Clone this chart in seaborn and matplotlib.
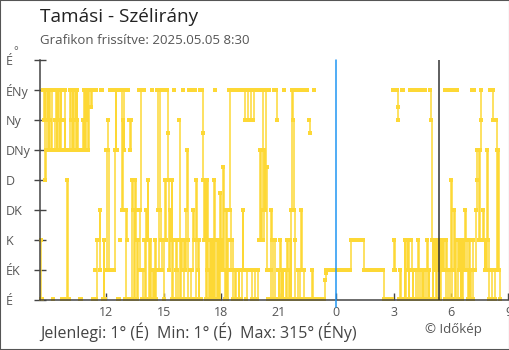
import numpy as np
import pandas as pd
import matplotlib
matplotlib.use("Agg")
import matplotlib.pyplot as plt
import seaborn as sns
from matplotlib.patches import Rectangle

# ---- data (2.5-minute readings from 08:35; one row per hour; hours continue past 24) ----
start_hour = 8 + 35 / 60
step_hours = 2.5 / 60
wind_dir = [
    90, 1, 1, 315, 270, 315, 180, 225, 315, 270, 225, 315, 270, 225, 315, 1, 1, 225, 270, 315, 225, 270, 315, 225,
    270, 315, 225, 1, 1, 270, 225, 315, 1, 180, 1, 1, 225, 315, 270, 225, 315, 225, 270, 315, 225, 315, 270, 225,
    225, 1, 1, 1, 225, 270, 225, 315, 225, 315, 270, 315, 225, 315, 315, 290, 315, 315, 1, 315, 45, 315, 1, 90,
    90, 90, 135, 45, 315, 315, 1, 90, 1, 1, 225, 45, 270, 225, 45, 315, 45, 315, 45, 315, 45, 225, 315, 225,
    225, 1, 1, 315, 90, 315, 135, 270, 225, 315, 1, 135, 90, 315, 1, 270, 225, 270, 1, 180, 135, 1, 180, 135,
    90, 1, 90, 315, 45, 135, 315, 1, 45, 315, 90, 1, 135, 90, 180, 90, 1, 90, 1, 315, 1, 45, 1, 90,
    45, 1, 315, 135, 45, 315, 135, 90, 45, 315, 1, 90, 180, 90, 315, 250, 180, 45, 135, 90, 180, 1, 90, 315,
    1, 45, 90, 45, 1, 270, 90, 1, 90, 45, 315, 1, 90, 45, 135, 225, 90, 1, 315, 45, 1, 315, 45, 135,
    90, 315, 1, 180, 90, 45, 1, 90, 315, 1, 315, 250, 180, 90, 180, 1, 45, 180, 45, 1, 90, 45, 1, 90,
    1, 180, 1, 315, 90, 1, 90, 45, 1, 160, 45, 90, 45, 200, 45, 1, 135, 45, 1, 90, 315, 135, 45, 315,
    90, 1, 315, 1, 45, 1, 315, 45, 1, 45, 315, 1, 45, 135, 45, 315, 270, 1, 45, 315, 270, 45, 270, 315,
    45, 1, 270, 315, 1, 45, 315, 1, 45, 315, 90, 225, 90, 135, 315, 90, 225, 135, 315, 45, 200, 1, 315, 1,
    45, 135, 90, 1, 315, 1, 90, 315, 270, 45, 1, 45, 90, 1, 45, 1, 45, 315, 45, 1, 45, 90, 45, 1,
    90, 1, 135, 315, 270, 135, 90, 1, 315, 1, 45, 315, 1, 45, 135, 45, 315, 1, 45, 315, 1, 1, 315, 1,
    270, 250, 1, 1, 45, 1, 315, 1, 1, 1, 1, 1, 1, 1, 1, 1, 1, 1, 1, 1, 30, 40, 45, 45,
    45, 45, 45, 45, 45, 45, 45, 45, 45, 45, 45, 45, 45, 45, 45, 45, 45, 45, 45, 45, 45, 45, 45, 45,
    45, 45, 45, 45, 45, 90, 90, 90, 90, 90, 90, 90, 90, 90, 90, 90, 90, 90, 90, 90, 90, 45, 45, 45,
    45, 45, 45, 45, 45, 45, 45, 45, 45, 45, 45, 45, 45, 45, 45, 45, 45, 45, 45, 45, 45, 45, 1, 1,
    1, 1, 1, 1, 1, 1, 1, 1, 1, 315, 45, 90, 45, 315, 315, 290, 270, 1, 45, 1, 315, 1, 315, 1,
    90, 1, 45, 90, 45, 1, 90, 315, 90, 45, 1, 45, 315, 1, 45, 315, 1, 90, 45, 1, 315, 45, 1, 45,
    1, 315, 1, 45, 90, 1, 45, 1, 315, 270, 90, 1, 90, 45, 90, 1, 90, 90, 45, 90, 1, 90, 90, 45,
    90, 45, 315, 1, 90, 45, 1, 315, 1, 45, 180, 1, 315, 45, 135, 1, 90, 315, 1, 90, 45, 90, 1, 90,
    1, 90, 45, 90, 135, 90, 45, 1, 45, 90, 1, 45, 315, 1, 90, 315, 45, 135, 180, 225, 225, 90, 225, 270,
    315, 90, 135, 90, 45, 90, 45, 225, 90, 45, 1, 315, 45, 1, 315, 270, 45, 1, 270, 225, 45, 225, 45, 1,
]
dir_ticks = [0, 45, 90, 135, 180, 225, 270, 315, 360]
dir_labels = ["É", "ÉK", "K", "DK", "D", "DNy", "Ny", "ÉNy", "É"]
hour_ticks = [12, 15, 18, 21, 24, 27, 30, 33]
hour_labels = ["12", "15", "18", "21", "0", "3", "6", "9"]
midnight = 24
sunrise = 29.38

title = "Tamási - Szélirány"
subtitle = "Grafikon frissítve: 2025.05.05 8:30"
footer = "Jelenlegi: 1° (É)  Min: 1° (É)  Max: 315° (ÉNy)"
credit = "© Időkép"

# ---- build frame; break the line where direction wraps across north ----
vals = np.array(wind_dir, dtype=float)
times = start_hour + step_hours * np.arange(len(vals))
jumps = np.r_[False, np.abs(np.diff(vals)) > 180]
df = pd.DataFrame({"time": times, "dir": vals, "seg": np.cumsum(jumps)})

sns.set_theme(style="white")
plt.rcParams["font.family"] = ["Open Sans", "DejaVu Sans"]

W, H = 510, 350
fig = plt.figure(figsize=(W / 100, H / 100), dpi=100)
fig.patch.set_facecolor("white")
ax = fig.add_axes([40 / W, 50 / H, 468.5 / W, 240 / H])
ax.set_facecolor("white")

line_col = "#fdd835"
sns.lineplot(data=df, x="time", y="dir", units="seg", estimator=None,
             color=line_col, drawstyle="steps-post", marker="s",
             markersize=2.8, markeredgewidth=0, linewidth=1.1,
             clip_on=False, ax=ax, legend=False)

ax.axvline(midnight, ymin=-0.03, ymax=1, color="#2196f3", lw=1.1, clip_on=False, zorder=3)
ax.axvline(sunrise, ymin=0, ymax=1, color="#333333", lw=1.1, zorder=3)

ax.set_xlim(start_hour - 0.03, 33)
ax.set_ylim(0, 360)
ax.set_xticks(hour_ticks)
ax.set_xticklabels(hour_labels)
ax.set_yticks(dir_ticks)
ax.set_yticklabels(dir_labels)
ax.set_xlabel("")
ax.set_ylabel("")

for s in ["top", "right"]:
    ax.spines[s].set_visible(False)
for s in ["left", "bottom"]:
    ax.spines[s].set_color("#444444")
    ax.spines[s].set_linewidth(1.1)

ax.tick_params(axis="x", direction="in", length=5, width=1, color="#444444",
               labelsize=9, labelcolor="#555555", pad=4, bottom=True)
ax.tick_params(axis="y", direction="inout", length=9, width=1, color="#444444",
               labelsize=9, labelcolor="#555555", pad=19.8, left=True)
for lab in ax.get_yticklabels():
    lab.set_horizontalalignment("left")

fig.text(40 / W, 1 - 17 / H, title, fontsize=13.7, color="#222222", va="center", ha="left")
fig.text(40 / W, 1 - 40 / H, subtitle, fontsize=9.5, color="#555555", va="center", ha="left")
fig.text(13 / W, 1 - 52 / H, "°", fontsize=8, color="#555555", va="center", ha="left")
fig.text(40 / W, 1 - 332 / H, footer, fontsize=11.5, color="#444444", va="center", ha="left")
fig.text(425 / W, 1 - 330 / H, credit, fontsize=9.5, color="#555555", va="center", ha="left")

fig.add_artist(Rectangle((0, 0), 1, 1, transform=fig.transFigure, fill=False,
                         edgecolor="#555555", lw=1.5))

fig.savefig("out.png", dpi=100)
